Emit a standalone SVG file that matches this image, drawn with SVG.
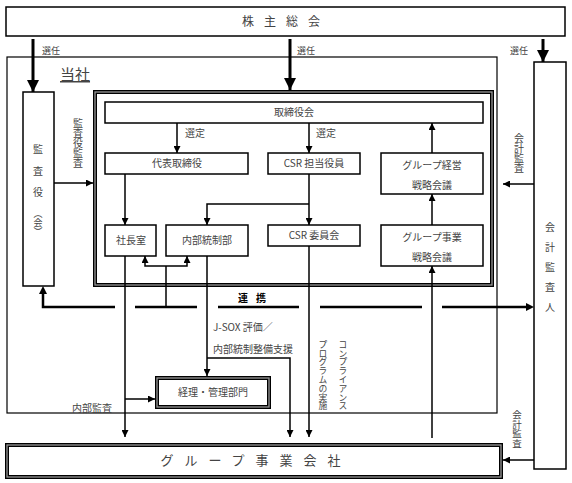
<svg xmlns="http://www.w3.org/2000/svg" width="572" height="483" viewBox="0 0 572 483">
<defs>
<marker id="ah" viewBox="0 0 10 10" refX="10" refY="5" markerWidth="7" markerHeight="7" markerUnits="userSpaceOnUse" orient="auto"><path d="M0,0 L10,5 L0,10 z" fill="#000"/></marker>
<marker id="ahb" viewBox="0 0 10 10" refX="10" refY="5" markerWidth="12" markerHeight="12" markerUnits="userSpaceOnUse" orient="auto"><path d="M0,0 L10,5 L0,10 z" fill="#000"/></marker>
<style>
text{font-family:"Noto Sans CJK JP","Noto Sans",sans-serif;fill:#444;font-size:10px}
.c{text-anchor:middle}
.vc{text-anchor:middle;dominant-baseline:central}
.v{writing-mode:vertical-rl;text-anchor:start}
.box{fill:#fff;stroke:#000;stroke-width:1.5}
.thin{fill:none;stroke:#000;stroke-width:1.2}
.dblo{fill:none;stroke:#000;stroke-width:4}
.dbli{fill:none;stroke:#999;stroke-width:1.3}
.ln{fill:none;stroke:#000;stroke-width:1.5}
.arr{fill:none;stroke:#000;stroke-width:1.5;marker-end:url(#ah)}
.big{fill:none;stroke:#000;stroke-width:3;marker-end:url(#ahb)}
.link{fill:none;stroke:#000;stroke-width:2.5}
</style>
</defs>
<rect width="572" height="483" fill="#fff"/>

<g id="shareholders">
<rect class="box" x="6" y="7" width="559" height="29"/>
<text class="c" x="286" y="26" style="font-size:12px;letter-spacing:10px">株主総会</text>
</g>

<g id="company">
<rect class="thin" x="7" y="57" width="490" height="356"/>
<text x="60" y="80" style="font-size:15px;text-decoration:underline">当社</text>
</g>

<g id="auditor">
<rect class="box" x="23" y="92" width="31" height="194"/>
<text class="vc" x="38" y="148">監</text>
<text class="vc" x="38" y="170">査</text>
<text class="vc" x="38" y="191">役</text>
<text class="v" x="38" y="209" style="font-size:9px">（会）</text>
</g>

<g id="board-frame">
<rect class="dblo" x="95" y="92" width="397" height="193"/>
<rect class="dbli" x="95" y="92" width="397" height="193"/>
</g>

<g id="board">
<rect class="box" x="105" y="102" width="378" height="21"/>
<text class="c" x="294" y="116">取締役会</text>
</g>
<g id="ceo">
<rect class="box" x="105" y="153" width="143" height="21"/>
<text class="c" x="177" y="167">代表取締役</text>
</g>
<g id="csr-officer">
<rect class="box" x="268" y="153" width="92" height="21"/>
<text class="c" x="314" y="167">CSR 担当役員</text>
</g>
<g id="group-mgmt">
<rect class="box" x="381" y="153" width="102" height="41"/>
<text class="c" x="432" y="169">グループ経営</text>
<text class="c" x="432" y="189">戦略会議</text>
</g>
<g id="president-office">
<rect class="box" x="105" y="225" width="51" height="31"/>
<text class="c" x="131" y="244">社長室</text>
</g>
<g id="internal-control">
<rect class="box" x="166" y="225" width="82" height="31"/>
<text class="c" x="207" y="244">内部統制部</text>
</g>
<g id="csr-committee">
<rect class="box" x="268" y="225" width="92" height="21"/>
<text class="c" x="314" y="239">CSR 委員会</text>
</g>
<g id="group-business">
<rect class="box" x="381" y="225" width="102" height="41"/>
<text class="c" x="432" y="241">グループ事業</text>
<text class="c" x="432" y="261">戦略会議</text>
</g>

<g id="accounting-auditor">
<rect class="box" x="534" y="62" width="32" height="407"/>
<text class="vc" x="550" y="226">会</text>
<text class="vc" x="550" y="246">計</text>
<text class="vc" x="550" y="266">監</text>
<text class="vc" x="550" y="286">査</text>
<text class="vc" x="550" y="306">人</text>
</g>

<g id="accounting-dept">
<rect class="dblo" x="157" y="378" width="112" height="29"/>
<rect class="dbli" x="157" y="378" width="112" height="29"/>
<rect x="159" y="380" width="108" height="25" fill="#fff"/>
<text class="c" x="213" y="396">経理・管理部門</text>
</g>

<g id="group-companies">
<rect class="dblo" x="7" y="445" width="494" height="32"/>
<rect class="dbli" x="7" y="445" width="494" height="32"/>
<rect x="9" y="447" width="490" height="28" fill="#fff"/>
<text class="c" x="256" y="465" style="font-size:13px;letter-spacing:11px">グループ事業会社</text>
</g>

<g id="connectors">
<line class="big" x1="33" y1="39" x2="33" y2="92"/>
<line class="big" x1="290" y1="39" x2="290" y2="90"/>
<line class="big" x1="543" y1="39" x2="543" y2="62"/>
<line class="arr" x1="54" y1="183" x2="93" y2="183"/>
<line class="arr" x1="534" y1="184" x2="503" y2="184"/>
<line class="arr" x1="177" y1="123" x2="177" y2="153"/>
<line class="arr" x1="309" y1="123" x2="309" y2="153"/>
<line class="arr" x1="432" y1="153" x2="432" y2="123"/>
<line class="arr" x1="432" y1="225" x2="432" y2="194"/>
<line class="arr" x1="125" y1="174" x2="125" y2="225"/>
<line class="arr" x1="309" y1="174" x2="309" y2="225"/>
<polyline class="arr" points="309,204 207,204 207,225"/>
<polyline class="arr" points="166,266 145,266 145,256"/>
<polyline class="arr" points="166,266 187,266 187,256"/>
<line class="ln" x1="166" y1="266" x2="166" y2="307"/>
<polyline class="link" points="115,307 43,307 43,293"/>
<path d="M43,286 L39,294 L47,294 z" fill="#000"/>
<line class="link" x1="135" y1="307" x2="197" y2="307"/>
<line class="link" x1="218" y1="307" x2="299" y2="307"/>
<line class="link" x1="320" y1="307" x2="422" y2="307"/>
<line class="link" x1="442" y1="307" x2="527" y2="307"/>
<path d="M534,307 L526,303 L526,311 z" fill="#000"/>
<line class="arr" x1="125" y1="256" x2="125" y2="437"/>
<line class="arr" x1="125" y1="399" x2="155" y2="399"/>
<line class="arr" x1="207" y1="256" x2="207" y2="376"/>
<polyline class="arr" points="207,358 290,358 290,437"/>
<line class="arr" x1="309" y1="246" x2="309" y2="437"/>
<line class="arr" x1="432" y1="438" x2="432" y2="266"/>
<line class="arr" x1="534" y1="460" x2="503" y2="460"/>
</g>

<g id="labels">
<text x="42" y="54" style="font-size:9px">選任</text>
<text x="297" y="54" style="font-size:9px">選任</text>
<text x="510" y="54" style="font-size:9px">選任</text>
<text x="185" y="137">選定</text>
<text x="316" y="137">選定</text>
<text class="v" x="78" y="118">監査役監査</text>
<text class="v" x="519" y="133">会計監査</text>
<text class="v" x="517" y="410" style="font-size:9.5px">会計監査</text>
<text class="c" x="256" y="302" style="font-weight:bold;fill:#000;letter-spacing:8px">連携</text>
<text x="213" y="331">J-SOX 評価／</text>
<text x="213" y="353">内部統制整備支援</text>
<text class="v" x="343" y="340" style="font-size:8.8px">コンプライアンス</text>
<text class="v" x="323" y="340" style="font-size:8.8px">プログラムの実施</text>
<text x="72" y="412">内部監査</text>
</g>
</svg>
